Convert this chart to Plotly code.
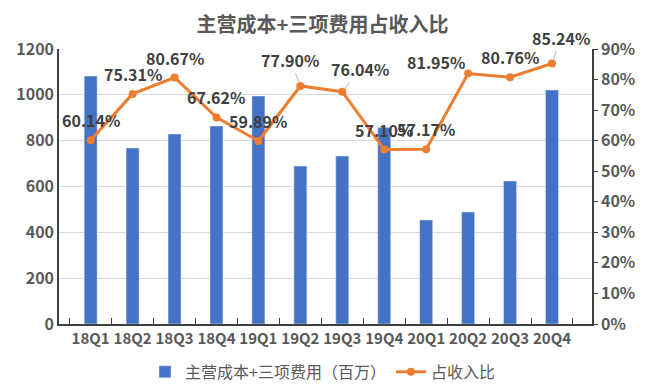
import plotly.graph_objects as go

categories = ["18Q1","18Q2","18Q3","18Q4","19Q1","19Q2","19Q3","19Q4","20Q1","20Q2","20Q3","20Q4"]
cost = [1082, 768, 829, 864, 995, 689, 733, 857, 454, 489, 624, 1021]
ratio = [60.14, 75.31, 80.67, 67.62, 59.89, 77.90, 76.04, 57.10, 57.17, 81.95, 80.76, 85.24]
ratio_labels = ["60.14%","75.31%","80.67%","67.62%","59.89%","77.90%","76.04%","57.10%","57.17%","81.95%","80.76%","85.24%"]

FONT = "Noto Sans CJK SC"
GREY = "#595959"

fig = go.Figure()
fig.add_trace(go.Bar(x=categories, y=cost, name="主营成本+三项费用（百万）",
                     marker_color="#4472C4", width=0.31))
fig.add_trace(go.Scatter(x=categories, y=ratio, name="占收入比", yaxis="y2",
                         mode="lines+markers",
                         line=dict(color="#ED7D31", width=3),
                         marker=dict(color="#ED7D31", size=8)))

# label offsets (pixels): (ax, ay) ; leader line where arrow shown
offsets = {5: (-10, -26), 6: (18, -23), 9: (-32, -12), 11: (9, -26)}
for i, (c, v, t) in enumerate(zip(categories, ratio, ratio_labels)):
    if i in offsets:
        ax, ay = offsets[i]
        fig.add_annotation(x=c, y=v, xref="x", yref="y2", text="<b>" + t + "</b>",
                           showarrow=True, arrowhead=0, arrowwidth=0.8,
                           arrowcolor="#A6A6A6", ax=ax, ay=ay, standoff=4,
                           font=dict(family=FONT, size=16, color="#404040"))
    else:
        fig.add_annotation(x=c, y=v, xref="x", yref="y2", text="<b>" + t + "</b>",
                           showarrow=False, yshift=20,
                           font=dict(family=FONT, size=16, color="#404040"))

fig.update_layout(
    width=645, height=389,
    margin=dict(l=59, r=53, t=49, b=65),
    paper_bgcolor="white", plot_bgcolor="white",
    title=dict(text="<b>主营成本+三项费用占收入比</b>", x=0.5, xanchor="center",
               y=0.935, yanchor="middle",
               font=dict(family=FONT, size=20, color=GREY)),
    font=dict(family=FONT, size=16, color=GREY),
    bargap=0.69,
    xaxis=dict(showline=True, linecolor="#404040", linewidth=1.5,
               ticks="inside", tickson="boundaries", ticklen=6,
               tickcolor="#404040", tickangle=0, automargin=False,
               tickfont=dict(family=FONT, size=15, color=GREY, weight="bold")),
    yaxis=dict(range=[0, 1200], dtick=200, showline=True, linecolor="#404040",
               linewidth=1.5, gridcolor="#D9D9D9", zeroline=False, automargin=False,
               tickfont=dict(family=FONT, size=16, color=GREY, weight="bold")),
    yaxis2=dict(range=[0, 90], dtick=10, overlaying="y", side="right",
                showline=True, linecolor="#404040", linewidth=1.5,
                showgrid=False, zeroline=False, ticksuffix="%", automargin=False,
                ticks="outside", ticklen=4, tickcolor="#404040",
                tickfont=dict(family=FONT, size=16, color=GREY, weight="bold")),
    legend=dict(orientation="h", x=0.5, xanchor="center", xref="container",
                y=0.044, yanchor="middle", yref="container",
                font=dict(family=FONT, size=16, color=GREY)),
    showlegend=True,
)

fig.write_html("out.html", config={"displayModeBar": False},
               post_script="document.body.style.margin='0';")
